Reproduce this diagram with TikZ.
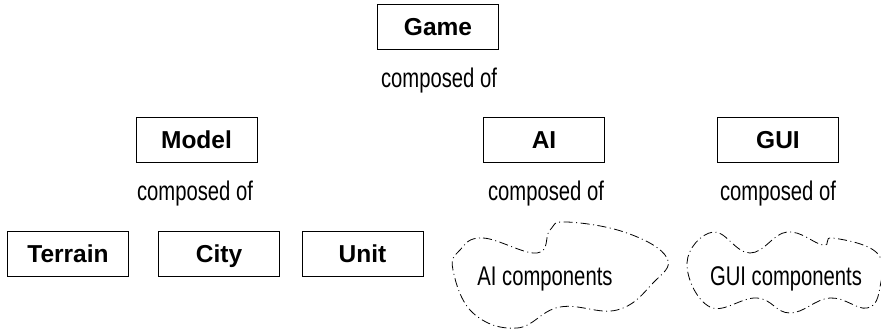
\documentclass[tikz,border=0pt]{standalone}
\usepackage{fontspec}
\setmainfont{Liberation Sans}
\newfontfamily\narrowsans[FakeStretch=0.75]{Liberation Sans}
\usetikzlibrary{positioning}

\tikzset{
  classbox/.style={draw, line width=0.8pt, minimum width=121pt, minimum height=45pt,
    inner sep=0pt, text height=17pt, text depth=1pt,
    font=\fontsize{24.5}{28}\selectfont\bfseries},
  relation/.style={anchor=base, inner sep=0pt, font=\narrowsans\fontsize{27}{31}\selectfont},
  cloudline/.style={line width=0.8pt, dash pattern=on 9pt off 3.5pt on 1pt off 3.5pt}
}

\begin{document}
\begin{tikzpicture}[x=1pt, y=-1pt]
  \useasboundingbox (0,0) rectangle (881,335);

  % top level
  \node[classbox] (game) at (438,27) {Game};
  \node[relation] (gamecomp) at (439,87) {composed of};

  % second level
  \node[classbox] (model) at (196.5,140) {Model};
  \node[classbox] (ai) at (544,140) {AI};
  \node[classbox] (gui) at (778,140) {GUI};
  \node[relation] (modelcomp) at (195,200) {composed of};
  \node[relation] (aicomp) at (546,200) {composed of};
  \node[relation] (guicomp) at (778,200) {composed of};

  % model parts
  \node[classbox] (terrain) at (68,254) {Terrain};
  \node[classbox] (city) at (219,254) {City};
  \node[classbox] (unit) at (362.5,254) {Unit};

  % component clouds
  \draw[cloudline] plot[smooth cycle, tension=0.7] coordinates {
    (460,250) (483,238) (537,253) (550,230) (567,222) (627,233) (667,258)
    (653,283) (617,310) (560,307) (517,328) (473,313) (453,270)};
  \node[relation] (aiparts) at (545,285) {AI components};

  \draw[cloudline] plot[smooth cycle, tension=0.7] coordinates {
    (713,232) (750,253) (787,232) (823,245) (833,238) (877,253) (880,287)
    (867,308) (830,298) (790,313) (757,298) (710,307) (687,263)};
  \node[relation] (guiparts) at (786,285) {GUI components};
\end{tikzpicture}
\end{document}
